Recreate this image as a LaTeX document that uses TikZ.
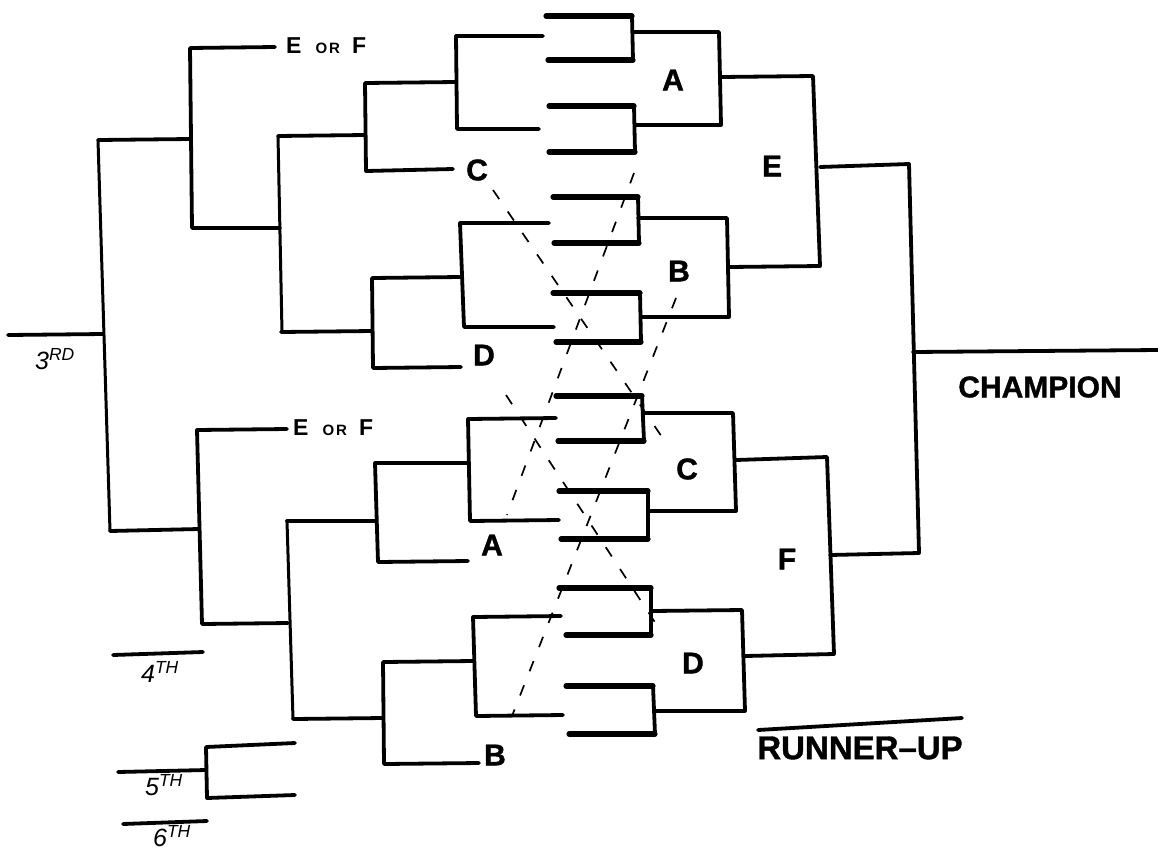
\documentclass[tikz,border=0pt]{standalone}
\usepackage{fontspec}
\setmainfont{Liberation Sans}
\newfontfamily\heavyfont[FakeBold=1.2,Ligatures=TeX]{Liberation Sans Bold}
\begin{document}
\begin{tikzpicture}[x=1pt,y=-1pt,
  ln/.style={line width=3.8pt,line cap=round,line join=round},
  thinln/.style={line width=3pt,line cap=round,line join=round},
  stub/.style={line width=5.2pt,line cap=round},
  dsh/.style={line width=1.7pt,dash pattern=on 11pt off 15pt},
  lbl/.style={inner sep=0pt,font=\fontsize{30}{30}\heavyfont},
  hand/.style={inner sep=0pt,font=\fontsize{25}{25}\itshape\selectfont},
  eorf/.style={inner sep=0pt,anchor=west,font=\fontsize{23}{23}\bfseries\selectfont}]
\useasboundingbox (0,0) rectangle (1158,852);

% ---------- winners' bracket: first-round pairs ----------
\foreach \xa/\xb/\ya/\xc/\xd/\yb in {
  546/632/16/548/633/60,
  549/634/106/549/635/152,
  553/638/197/554/639/243,
  553/640/293/556/641/342,
  556/642/396/558/644/441,
  559/648/491/561/648/539,
  559/651/588/566/651/635,
  566/653/686/569/655/734}{
  \draw[ln] (\xb,\ya) -- (\xd,\yb);
  \draw[stub] (\xa,\ya) -- (\xb,\ya);
  \draw[stub] (\xc,\yb) -- (\xd,\yb);
}

% second round
\draw[ln] (633,32) -- (719,32) -- (721,125) -- (636,125);
\draw[ln] (638,218) -- (727,218) -- (729,317) -- (641,317);
\draw[ln] (644,413) -- (733,413) -- (736,511) -- (649,511);
\draw[ln] (652,611) -- (742,610) -- (745,711) -- (656,711);
% semifinals
\draw[ln] (721,77) -- (813,76) -- (820,266) -- (729,267);
\draw[ln] (736,460) -- (827,457) -- (834,654) -- (745,656);
% final
\draw[ln] (820,167) -- (909,164) -- (919,553) -- (830,555);
\draw[ln] (913,352) -- (1158,350);
\draw[ln] (758,730) -- (962,718);

% ---------- losers' bracket, top ----------
\draw[ln] (543,36) -- (456,36) -- (457,129) -- (539,129);
\draw[ln] (456,82) -- (365,83) -- (366,171) -- (453,169);
\draw[ln] (278,136) -- (365,135);
\draw[ln] (549,223) -- (460,223) -- (464,327) -- (554,327);
\draw[ln] (460,277) -- (372,278) -- (373,368) -- (461,367);
\draw[ln] (281,332) -- (372,331);
\draw[thinln] (278,136) -- (282,332);
\draw[ln] (275,47) -- (190,48) -- (192,228) -- (280,228);
\draw[ln] (98,140) -- (190,139);
\draw[thinln] (98,140) -- (110,531);
\draw[ln] (110,531) -- (199,529);
\draw[ln] (8,335) -- (103,334);

% ---------- losers' bracket, bottom ----------
\draw[ln] (287,429) -- (197,430) -- (202,624) -- (288,623);
\draw[ln] (375,521) -- (287,521);
\draw[thinln] (287,521) -- (293,719);
\draw[ln] (293,719) -- (383,718);
\draw[ln] (468,463) -- (375,463) -- (378,562) -- (468,561);
\draw[ln] (556,418) -- (468,419) -- (470,521) -- (559,520);
\draw[ln] (473,661) -- (383,662) -- (384,764) -- (479,763);
\draw[ln] (561,616) -- (473,617) -- (476,716) -- (563,715);

% places
\draw[ln] (113,655) -- (203,652);
\draw[ln] (295,743) -- (206,747) -- (207,798) -- (295,795);
\draw[ln] (118,772) -- (206,770);
\draw[ln] (123,824) -- (207,821);

% ---------- labels ----------
\node[lbl] (wA) at (673,80) {A};
\node[lbl] (wB) at (679,271) {B};
\node[lbl] (wE) at (772,166) {E};
\node[lbl] (wC) at (687,469) {C};
\node[lbl] (wD) at (693,663) {D};
\node[lbl] (wF) at (787,559) {F};
\node[lbl] (lC) at (477,170) {C};
\node[lbl] (lD) at (484,355) {D};
\node[lbl] (lA) at (492,545) {A};
\node[lbl] (lB) at (495,755) {B};

\node[eorf] (ef1) at (286,46) {E\hspace{14pt}{\fontsize{15}{15}\selectfont O\hspace{2pt}R}\hspace{12pt}F};
\node[eorf] (ef2) at (293,428) {E\hspace{14pt}{\fontsize{15}{15}\selectfont O\hspace{2pt}R}\hspace{12pt}F};

\node[hand] (third) at (55,359) {3\textsuperscript{RD}};
\node[hand] (fourth) at (160,672) {4\textsuperscript{TH}};
\node[hand] (fifth) at (164,785) {5\textsuperscript{TH}};
\node[hand] (sixth) at (172,836) {6\textsuperscript{TH}};

\node[inner sep=0pt,font=\fontsize{30}{30}\heavyfont] (champ) at (1040,387) {CHAMPION};
\node[inner sep=0pt,font=\fontsize{33}{33}\heavyfont] (runner) at (860,748) {RUNNER–UP};

% ---------- dashed loser routes ----------
\coordinate (dC1) at (493,190); \coordinate (dC2) at (662,437);
\coordinate (dA1) at (634,173); \coordinate (dA2) at (507,515);
\coordinate (dB1) at (676,298); \coordinate (dB2) at (512,716);
\coordinate (dD1) at (506,395); \coordinate (dD2) at (660,630);
\draw[dsh] (dC1) -- (dC2);
\draw[dsh] (dA1) -- (dA2);
\draw[dsh] (dB1) -- (dB2);
\draw[dsh] (dD1) -- (dD2);
\end{tikzpicture}
\end{document}
